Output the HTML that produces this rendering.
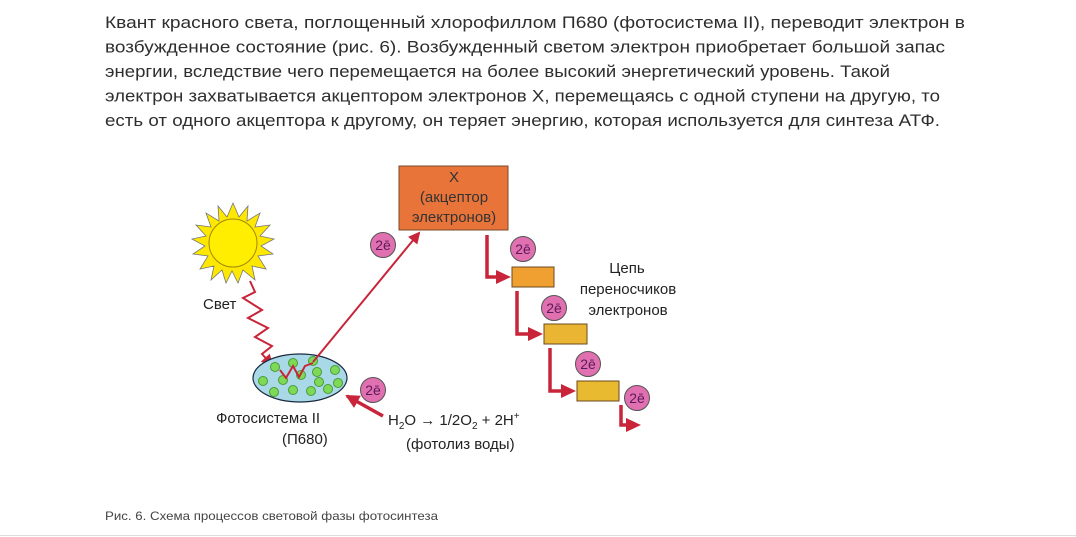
<!DOCTYPE html>
<html><head><meta charset="utf-8"><style>
html,body{margin:0;padding:0;background:#fff;width:1076px;height:537px;overflow:hidden}
svg{display:block}
</style></head><body>
<svg width="1076" height="537" viewBox="0 0 1076 537" xmlns="http://www.w3.org/2000/svg" font-family="Liberation Sans, sans-serif">
<defs>
<marker id="ah" markerWidth="12" markerHeight="12" refX="10" refY="6" orient="auto" markerUnits="userSpaceOnUse"><path d="M0,0 L12,6 L0,12 z" fill="#c8253a"/></marker>
<marker id="ah2" markerWidth="14" markerHeight="14" refX="12" refY="7" orient="auto" markerUnits="userSpaceOnUse"><path d="M0,0 L14,7 L0,14 z" fill="#c8253a"/></marker>
</defs>
<g font-size="17" fill="#2e2e2e">
<text x="105" y="28" textLength="860" lengthAdjust="spacingAndGlyphs">Квант красного света, поглощенный хлорофиллом П680 (фотосистема II), переводит электрон в</text>
<text x="105" y="52.5" textLength="840" lengthAdjust="spacingAndGlyphs">возбужденное состояние (рис. 6). Возбужденный светом электрон приобретает большой запас</text>
<text x="105" y="77" textLength="785" lengthAdjust="spacingAndGlyphs">энергии, вследствие чего перемещается на более высокий энергетический уровень. Такой</text>
<text x="105" y="101.5" textLength="835" lengthAdjust="spacingAndGlyphs">электрон захватывается акцептором электронов X, перемещаясь с одной ступени на другую, то</text>
<text x="105" y="126" textLength="835" lengthAdjust="spacingAndGlyphs">есть от одного акцептора к другому, он теряет энергию, которая используется для синтеза АТФ.</text>
</g>
<text x="105" y="520" font-size="12" fill="#444" textLength="333" lengthAdjust="spacingAndGlyphs">Рис. 6. Схема процессов световой фазы фотосинтеза</text>
<line x1="0" y1="535.5" x2="1076" y2="535.5" stroke="#ddd"/>

<!-- sun -->
<g transform="translate(233,243)">
<polygon fill="#ffe800" stroke="#777" stroke-width="0.8" points="0,-40 6,-26 15,-37 14,-22 27,-30 22,-16 37,-18 27,-7 41,-4 28,3 40,11 25,13 33,26 19,23 22,37 10,27 5,40 -1,28 -7,40 -11,27 -22,37 -19,23 -33,26 -25,13 -40,11 -28,3 -41,-4 -27,-7 -37,-18 -22,-16 -27,-30 -14,-22 -15,-37 -6,-26"/>
<circle r="24" fill="#ffee00" stroke="#a08800" stroke-width="1"/>
</g>
<text x="203" y="309" font-size="15" fill="#222">Свет</text>
<polyline points="250,281 255,292 243,298 262,310 248,318 268,328 255,337 272,346 262,354 272,365" fill="none" stroke="#c8253a" stroke-width="2" marker-end="url(#ah)"/>

<!-- ellipse -->
<ellipse cx="300" cy="378" rx="47" ry="24" fill="#a9d9e6" stroke="#1a2a40" stroke-width="1.2"/>
<g fill="#7ed957" stroke="#4a9a3a" stroke-width="1">
<circle cx="275" cy="367" r="4.5"/><circle cx="293" cy="363" r="4.5"/><circle cx="313" cy="361" r="4.5"/>
<circle cx="263" cy="381" r="4.5"/><circle cx="283" cy="380" r="4.5"/><circle cx="301" cy="375" r="4.5"/><circle cx="317" cy="372" r="4.5"/><circle cx="335" cy="370" r="4.5"/>
<circle cx="274" cy="392" r="4.5"/><circle cx="293" cy="390" r="4.5"/><circle cx="311" cy="391" r="4.5"/><circle cx="319" cy="382" r="4.5"/><circle cx="328" cy="389" r="4.5"/><circle cx="338" cy="383" r="4.5"/>
</g>
<polyline points="280,370 286,378 293,366 299,377 305,366 313,363" fill="none" stroke="#c8253a" stroke-width="2"/>
<line x1="313" y1="362" x2="419" y2="233" stroke="#c8253a" stroke-width="2" marker-end="url(#ah)"/>
<text x="216" y="423" font-size="15" fill="#222">Фотосистема II</text>
<text x="282" y="444" font-size="15" fill="#222">(П680)</text>

<!-- X box -->
<rect x="399" y="166" width="109" height="64" fill="#e8743a" stroke="#7a4a2a" stroke-width="1"/>
<g font-size="15" fill="#333" text-anchor="middle">
<text x="454" y="182">X</text>
<text x="454" y="202">(акцептор</text>
<text x="454" y="222">электронов)</text>
</g>

<!-- water -->
<line x1="383" y1="416" x2="347" y2="396" stroke="#c8253a" stroke-width="3.5" marker-end="url(#ah2)"/>
<text x="388" y="425" font-size="15" fill="#222">H<tspan font-size="10" dy="4">2</tspan><tspan dy="-4">O → 1/2O</tspan><tspan font-size="10" dy="4">2</tspan><tspan dy="-4"> + 2H</tspan><tspan font-size="10" dy="-6">+</tspan></text>
<text x="406" y="449" font-size="15" fill="#222">(фотолиз воды)</text>

<!-- chain boxes -->
<rect x="512" y="267" width="42" height="20" fill="#f0a030" stroke="#6a4a20"/>
<rect x="544" y="324" width="43" height="20" fill="#eab532" stroke="#6a4a20"/>
<rect x="577" y="381" width="42" height="20" fill="#e8ba30" stroke="#6a4a20"/>
<g fill="none" stroke="#c8253a" stroke-width="3.5">
<polyline points="487,235 487,277 498,277"/>
<polyline points="517,291 517,334 530,334"/>
<polyline points="550,348 550,391 563,391"/>
<polyline points="621,405 621,425 627,425"/>
</g>
<g fill="#c8253a">
<path d="M496,270 L511,277 L496,284 z"/>
<path d="M528,327 L543,334 L528,341 z"/>
<path d="M561,384 L576,391 L561,398 z"/>
<path d="M626,418 L641,425 L626,432 z"/>
</g>
<g font-size="15" fill="#222" text-anchor="middle">
<text x="627" y="273">Цепь</text>
<text x="628" y="294">переносчиков</text>
<text x="628" y="315">электронов</text>
</g>

<!-- 2e circles -->
<g font-size="14" fill="#5a1a5a" text-anchor="middle">
<g transform="translate(383,245)"><circle r="12.5" fill="#e070b0" stroke="#555"/><text y="5">2ē</text></g>
<g transform="translate(523,249)"><circle r="12.5" fill="#e070b0" stroke="#555"/><text y="5">2ē</text></g>
<g transform="translate(554,308)"><circle r="12.5" fill="#e070b0" stroke="#555"/><text y="5">2ē</text></g>
<g transform="translate(588,364)"><circle r="12.5" fill="#e070b0" stroke="#555"/><text y="5">2ē</text></g>
<g transform="translate(637,398)"><circle r="12.5" fill="#e070b0" stroke="#555"/><text y="5">2ē</text></g>
<g transform="translate(373,390)"><circle r="12.5" fill="#e070b0" stroke="#555"/><text y="5">2ē</text></g>
</g>
</svg>
</body></html>
